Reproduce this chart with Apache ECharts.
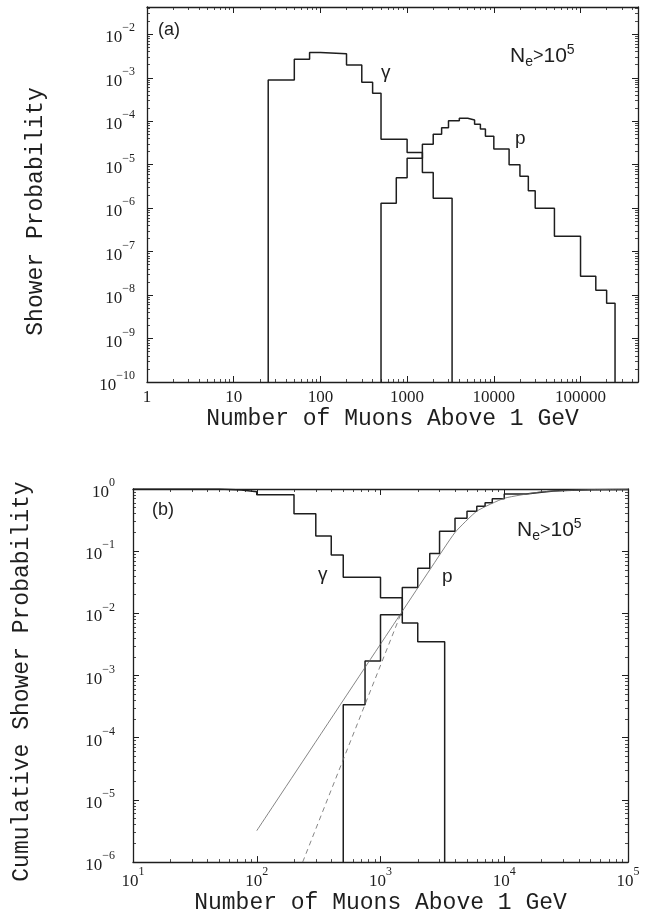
<!DOCTYPE html>
<html><head><meta charset="utf-8">
<script src="https://cdn.jsdelivr.net/npm/echarts@6/dist/echarts.min.js"></script>
<style>html,body{margin:0;padding:0;background:#fff}#c{width:645px;height:915px}</style>
</head><body><div id="c"></div>
<script>
// ---------- Panel (a): shower probability per muon bin ----------
const gammaEdgesA = [25, 50, 75, 100, 200, 300, 400, 500, 1000, 1500, 2000, 3300];
const gammaValuesA = [8.9e-4, 2.66e-3, 3.8e-3, 3.55e-3, 1.97e-3, 7.9e-4, 4.4e-4, 3.85e-5, 1.9e-5, 6.6e-6, 1.7e-6];
const protonEdgesA = [500, 750, 1000, 1500, 2000, 2500, 3000, 4000, 5000, 6000, 7000, 8000, 10000, 15000, 20000, 25000, 30000, 50000, 100000, 150000, 200000, 250000];
const protonValuesA = [1.3e-6, 5e-6, 1.4e-5, 2.95e-5, 5e-5, 7.1e-5, 1.02e-4, 1.17e-4, 1.07e-4, 8.5e-5, 6.6e-5, 4.5e-5, 2.3e-5, 1e-5, 5.4e-6, 2.5e-6, 1e-6, 2.25e-7, 2.7e-8, 1.3e-8, 6.5e-9];
const xTicksA = [1, 10, 100, 1000, 10000, 100000];
const yTicksA = [1e-10, 1e-9, 1e-8, 1e-7, 1e-6, 1e-5, 1e-4, 1e-3, 1e-2];

// ---------- Panel (b): cumulative shower probability ----------
const gammaEdgesB = [10, 50, 75, 100, 200, 300, 400, 500, 1000, 1500, 2000, 3300];
const gammaValuesB = [1.0, 0.96, 0.90, 0.81, 0.40, 0.176, 0.087, 0.038, 0.0178, 0.0070, 0.0035];
const protonEdgesB = [500, 750, 1000, 1500, 2000, 2500, 3000, 4000, 5000, 6000, 7000, 8000, 10000, 15000, 20000, 25000, 30000, 50000, 100000];
const protonValuesB = [3.4e-4, 1.71e-3, 9.5e-3, 0.026, 0.053, 0.092, 0.21, 0.34, 0.44, 0.53, 0.60, 0.70, 0.83, 0.89, 0.925, 0.945, 0.97, 0.985];
const fitSolidX = [100, 1500, 2500, 4000, 6000, 10000, 20000, 50000, 100000];
const fitSolidY = [3.2e-6, 0.0108, 0.05, 0.2, 0.44, 0.71, 0.9, 0.975, 0.99];
const fitDashX = [235, 1500];
const fitDashY = [1e-6, 0.0112];
const xTicksB = [10, 100, 1000, 10000, 100000];
const yTicksB = [1e-6, 1e-5, 1e-4, 1e-3, 1e-2, 1e-1, 1];

// ---------- helpers ----------
function outline(edges, values, floorStart, floorEnd) {
  const pts = [];
  if (floorStart != null) pts.push([edges[0], floorStart]);
  for (let i = 0; i < values.length; i++) {
    pts.push([edges[i], values[i]]);
    pts.push([edges[i + 1], values[i]]);
  }
  if (floorEnd != null) pts.push([edges[edges.length - 1], floorEnd]);
  return pts;
}
function minorTicks(min, max) {
  const out = [];
  const lo = Math.floor(Math.log10(min)), hi = Math.ceil(Math.log10(max));
  for (let n = lo; n <= hi; n++) {
    for (let k = 2; k <= 9; k++) {
      const v = k * Math.pow(10, n);
      if (v > min && v < max) out.push(v);
    }
  }
  return out;
}
const ink = '#1e1e1e';
const serif = 'Liberation Serif';
const mono = 'Liberation Mono';
const sans = 'Liberation Sans';
function expo(v) { return Math.round(Math.log10(v)); }
function powLabel(v) {
  const e = expo(v);
  return '{b|10}{e|' + (e < 0 ? '\u2212' + (-e) : e) + '}';
}
const richPow = {
  b: { fontFamily: serif, fontSize: 17, color: ink, lineHeight: 24, verticalAlign: 'bottom' },
  e: { fontFamily: serif, fontSize: 12, color: ink, lineHeight: 13, verticalAlign: 'top' }
};

function axesFor(dim, grid, min, max, majors, labelCfg, nameCfg) {
  const isX = dim === 'x';
  const sides = isX ? ['bottom', 'top'] : ['left', 'right'];
  const list = [];
  sides.forEach((side, si) => {
    const major = {
      type: 'log', gridIndex: grid, min: min, max: max, position: side,
      axisLine: { show: true, lineStyle: { color: ink, width: 1.3 } },
      axisTick: { show: true, inside: true, length: 6, customValues: majors, lineStyle: { color: ink, width: 1 } },
      axisLabel: si === 0 ? Object.assign({ customValues: majors }, labelCfg) : { show: false },
      splitLine: { show: false }, minorTick: { show: false }
    };
    if (si === 0 && nameCfg) Object.assign(major, nameCfg);
    list.push(major);
    list.push({
      type: 'log', gridIndex: grid, min: min, max: max, position: side,
      axisLine: { show: false },
      axisTick: { show: true, inside: true, length: 3, customValues: minorTicks(min, max), lineStyle: { color: ink, width: 0.8 } },
      axisLabel: { show: false }, splitLine: { show: false }
    });
  });
  return list;
}

const xTitle = 'Number of Muons Above 1 GeV';
const titleStyle = { fontFamily: mono, fontSize: 23, color: ink };

const xAxes = [].concat(
  axesFor('x', 0, 1, 460000, xTicksA,
    { margin: 7, fontFamily: serif, fontSize: 17, color: ink, formatter: v => String(Math.round(v)) },
    { name: xTitle, nameLocation: 'middle', nameGap: 25, nameTextStyle: titleStyle }),
  axesFor('x', 1, 10, 100000, xTicksB,
    { margin: 4, formatter: powLabel, rich: richPow },
    { name: xTitle, nameLocation: 'middle', nameGap: 21, nameTextStyle: titleStyle })
);
const yAxes = [].concat(
  axesFor('y', 0, 1e-10, 0.0425, yTicksA,
    { margin: 12, formatter: powLabel, rich: richPow },
    { name: 'Shower Probability', nameLocation: 'middle', nameGap: 100,
      nameTextStyle: Object.assign({ padding: [0, 34, 0, 0] }, titleStyle) }),
  axesFor('y', 1, 1e-6, 1, yTicksB,
    { margin: 18, formatter: powLabel, rich: richPow },
    { name: 'Cumulative Shower Probability', nameLocation: 'middle', nameGap: 100,
      nameTextStyle: Object.assign({ padding: [0, 12, 0, 0] }, titleStyle) })
);
const histLine = { color: ink, width: 1.5 };

const series = [
  { name: 'gamma (a)', type: 'line', xAxisIndex: 0, yAxisIndex: 0, symbol: 'none', lineStyle: histLine,
    data: outline(gammaEdgesA, gammaValuesA, 1e-10, 1e-10) },
  { name: 'proton (a)', type: 'line', xAxisIndex: 0, yAxisIndex: 0, symbol: 'none', lineStyle: histLine,
    data: outline(protonEdgesA, protonValuesA, 1e-10, 1e-10) },
  { name: 'gamma (b)', type: 'line', xAxisIndex: 4, yAxisIndex: 4, symbol: 'none', lineStyle: histLine,
    data: outline(gammaEdgesB, gammaValuesB, null, 1e-6) },
  { name: 'proton (b)', type: 'line', xAxisIndex: 4, yAxisIndex: 4, symbol: 'none', lineStyle: histLine,
    data: outline(protonEdgesB, protonValuesB, 1e-6, null) },
  { name: 'fit solid', type: 'line', xAxisIndex: 4, yAxisIndex: 4, symbol: 'none', smooth: 0.15,
    lineStyle: { color: '#666', width: 0.8 },
    data: fitSolidX.map((x, i) => [x, fitSolidY[i]]) },
  { name: 'fit dashed', type: 'line', xAxisIndex: 4, yAxisIndex: 4, symbol: 'none',
    lineStyle: { color: '#666', width: 0.8, type: [5, 4] },
    data: fitDashX.map((x, i) => [x, fitDashY[i]]) }
];

function neLabel(x, y) {
  return {
    type: 'text', x: x, y: y,
    style: {
      text: '{n|N}{s|e}{g|>}{n|10}{p|5}', align: 'left', verticalAlign: 'middle',
      rich: {
        n: { fontFamily: sans, fontSize: 21, fill: ink, lineHeight: 26, verticalAlign: 'middle' },
        g: { fontFamily: sans, fontSize: 18, fill: ink, lineHeight: 26, verticalAlign: 'middle' },
        s: { fontFamily: sans, fontSize: 14, fill: ink, lineHeight: 14, verticalAlign: 'bottom' },
        p: { fontFamily: sans, fontSize: 14, fill: ink, lineHeight: 14, verticalAlign: 'top' }
      }
    }
  };
}
function txt(x, y, s, size, fam) {
  return { type: 'text', x: x, y: y, style: { text: s, fontFamily: fam || sans, fontSize: size, fill: ink, align: 'left', verticalAlign: 'middle' } };
}

const option = {
  animation: false,
  backgroundColor: '#fff',
  grid: [
    { left: 147, top: 7, width: 491, height: 375 },
    { left: 133, top: 489, width: 495, height: 375 }
  ],
  xAxis: xAxes,
  yAxis: yAxes,
  series: series,
  graphic: [
    txt(158, 30, '(a)', 18),
    neLabel(510, 56),
    txt(381, 73, '\u03b3', 19),
    txt(515, 139, 'p', 19),
    txt(152, 510, '(b)', 18),
    neLabel(517, 530),
    txt(318, 575, '\u03b3', 19),
    txt(442, 577, 'p', 19)
  ]
};
echarts.init(document.getElementById('c')).setOption(option);
</script></body></html>
